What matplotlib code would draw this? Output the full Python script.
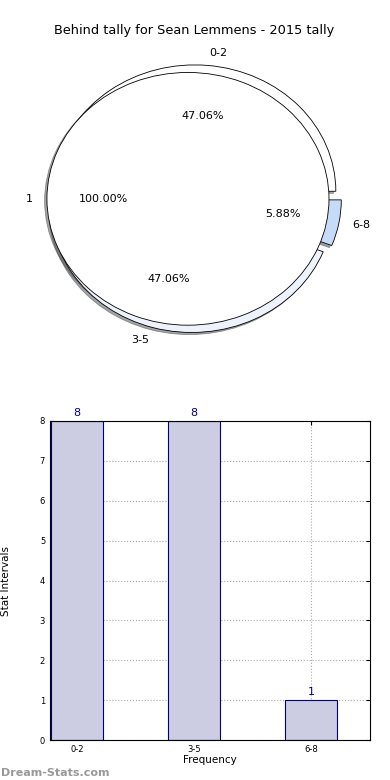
"""Behind tally - Sean Lemmens 2015 : camembert + histogramme."""
import matplotlib
matplotlib.use("Agg")
import matplotlib.pyplot as plt

# Données
intervals = ["0-2", "3-5", "6-8"]
counts = [8, 8, 1]
inner_labels = ["1"]
inner_values = [1]
title = "Behind tally for Sean Lemmens - 2015 tally"

pie_colors = ["#ffffff", "#edf2fd", "#c6dbf7"]
bar_face = "#ccccE2"
bar_edge = "#000080"

fig = plt.figure(figsize=(3.9, 7.8), dpi=100)

# Camembert (ellipse, comme l'original) : anneau extérieur éclaté + disque intérieur
ombre = dict(ox=-0.012, oy=-0.012)
ax1 = fig.add_axes([0.0455, 0.5426, 0.904, 0.405])
ax1.pie(counts, labels=intervals, autopct="%.2f%%", explode=[0.06, 0.06, 0.045],
        colors=pie_colors, shadow=ombre, radius=1.0, pctdistance=0.6,
        labeldistance=1.1, wedgeprops=dict(edgecolor="black", linewidth=0.6),
        textprops=dict(fontsize=8))
ax1.pie(inner_values, labels=inner_labels, autopct="%.2f%%", colors=["white"],
        explode=[0.043], shadow=ombre, radius=1.0, pctdistance=0.6,
        labeldistance=1.1, wedgeprops=dict(edgecolor="black", linewidth=0.6),
        textprops=dict(fontsize=8))
ax1.set_aspect("auto")
ax1.set_xlim(-1.25, 1.25)
ax1.set_ylim(-1.25, 1.25)
ax1.set_title(title, fontsize=9.3, pad=5)

# Histogramme
ax2 = fig.add_axes([50 / 390, 40 / 780, 320 / 390, 319 / 780])
x = list(range(len(intervals)))
ax2.bar(x, counts, width=0.45, color=bar_face, edgecolor=bar_edge, linewidth=0.8,
        zorder=2)
for xi, c in zip(x, counts):
    ax2.text(xi, c + 0.08, str(c), ha="center", va="bottom", color=bar_edge, fontsize=8)
ax2.set_xlim(-0.23, 2.505)
ax2.set_ylim(0, 8)
ax2.set_xticks(x)
ax2.set_xticklabels(intervals)
ax2.set_yticks(range(0, 9))
ax2.tick_params(labelsize=6, direction="in", top=True, right=True, length=3)
ax2.grid(True, linestyle=":", color="#aaaaaa", linewidth=0.8, zorder=0)
ax2.set_axisbelow(True)
ax2.set_xlabel("Frequency", fontsize=7.5, labelpad=1)
ax2.set_ylabel("Stat Intervals", fontsize=7.5)
ax2.yaxis.set_label_coords(-0.122, 0.5)

fig.text(0.002, 0.003, "Dream-Stats.com", color="#999999", fontsize=8,
         fontweight="bold", ha="left", va="bottom")

fig.savefig("out.png", dpi=100)
